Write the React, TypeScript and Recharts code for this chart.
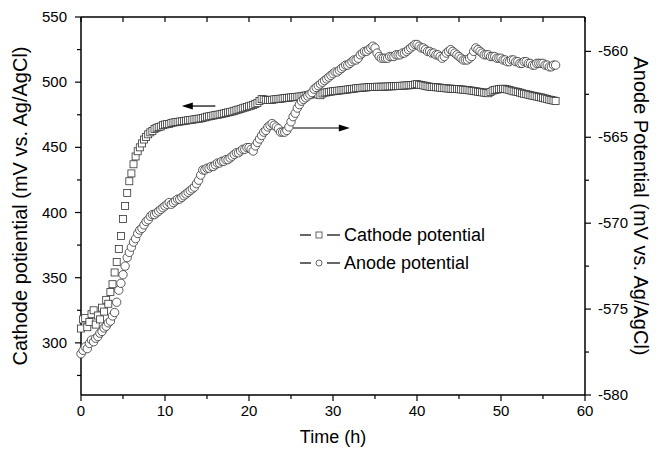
import React from 'react';
import {
  ComposedChart,
  Line,
  XAxis,
  YAxis,
  ReferenceLine,
} from 'recharts';

/* ------------------------- data ----------------------------------------- */
// sampling times (h)
const times = [
  0, 0.25, 0.5, 0.75, 1, 1.25, 1.5, 1.75,
  2, 2.25, 2.5, 2.75, 3, 3.25, 3.5, 3.75,
  4, 4.25, 4.5, 4.75, 5, 5.25, 5.5, 5.75,
  6, 6.25, 6.5, 6.75, 7, 7.25, 7.5, 7.75,
  8, 8.25, 8.5, 8.75, 9, 9.25, 9.5, 9.75,
  10, 10.25, 10.5, 10.75, 11, 11.25, 11.5, 11.75,
  12, 12.25, 12.5, 12.75, 13, 13.25, 13.5, 13.75,
  14, 14.25, 14.5, 14.75, 15, 15.25, 15.5, 15.75,
  16, 16.25, 16.5, 16.75, 17, 17.25, 17.5, 17.75,
  18, 18.25, 18.5, 18.75, 19, 19.25, 19.5, 19.75,
  20, 20.25, 20.5, 20.75, 21, 21.25, 21.5, 21.75,
  22, 22.25, 22.5, 22.75, 23, 23.25, 23.5, 23.75,
  24, 24.25, 24.5, 24.75, 25, 25.25, 25.5, 25.75,
  26, 26.25, 26.5, 26.75, 27, 27.25, 27.5, 27.75,
  28, 28.25, 28.5, 28.75, 29, 29.25, 29.5, 29.75,
  30, 30.25, 30.5, 30.75, 31, 31.25, 31.5, 31.75,
  32, 32.25, 32.5, 32.75, 33, 33.25, 33.5, 33.75,
  34, 34.25, 34.5, 34.75, 35, 35.25, 35.5, 35.75,
  36, 36.25, 36.5, 36.75, 37, 37.25, 37.5, 37.75,
  38, 38.25, 38.5, 38.75, 39, 39.25, 39.5, 39.75,
  40, 40.25, 40.5, 40.75, 41, 41.25, 41.5, 41.75,
  42, 42.25, 42.5, 42.75, 43, 43.25, 43.5, 43.75,
  44, 44.25, 44.5, 44.75, 45, 45.25, 45.5, 45.75,
  46, 46.25, 46.5, 46.75, 47, 47.25, 47.5, 47.75,
  48, 48.25, 48.5, 48.75, 49, 49.25, 49.5, 49.75,
  50, 50.25, 50.5, 50.75, 51, 51.25, 51.5, 51.75,
  52, 52.25, 52.5, 52.75, 53, 53.25, 53.5, 53.75,
  54, 54.25, 54.5, 54.75, 55, 55.25, 55.5, 55.75,
  56, 56.25, 56.5,
];

// cathode potential, mV vs Ag/AgCl (left axis)
const cathode = [
  311, 318, 319, 312, 316, 322, 325, 314,
  321, 318, 327, 324, 333, 330, 339, 345,
  354, 362, 372, 382, 395, 405, 415, 424,
  430, 437, 443, 447, 450, 453, 456, 458,
  460, 461.5, 462.5, 464, 465, 465.5, 466, 467,
  467.5, 467.8, 468, 468.6, 469, 469.3, 469.5, 469.8,
  470, 470.3, 470.5, 470.8, 471, 471.2, 471.5, 471.8,
  472, 472.2, 472.5, 473, 473.5, 473.8, 474, 474.4,
  474.8, 475, 475.3, 475.7, 476, 476.4, 476.8, 477.1,
  477.5, 478, 478.5, 479, 479.5, 480, 480.5, 481,
  481.5, 482, 482.5, 483.2, 484, 485.5, 487, 486.8,
  486.5, 486.4, 486.3, 486.5, 486.8, 487, 487.2, 487.3,
  487.5, 487.8, 488, 488.1, 488.3, 488.5, 488.6, 488.8,
  489, 489.2, 489.5, 489.8, 490, 490.4, 490.8, 491.2,
  491.5, 490.5, 490, 491.3, 492, 492.2, 492.5, 492.8,
  493, 493.2, 493.4, 493.6, 493.8, 494, 494.2, 494.4,
  494.6, 494.8, 495, 495.3, 495.5, 495.6, 495.8, 495.9,
  496, 496.2, 496.3, 496.3, 496.4, 496.5, 496.5, 496.5,
  496.5, 496.6, 496.7, 496.8, 496.8, 496.9, 497, 497.1,
  497.2, 497.3, 497.4, 497.5, 497.6, 497.7, 497.8, 498.2,
  498.5, 498.1, 497.8, 497.5, 497.2, 496.8, 496.5, 496.4,
  496.3, 496.1, 496, 495.8, 495.6, 495.4, 495.3, 495.1,
  495, 494.9, 494.8, 494.7, 494.6, 494.4, 494.3, 494.1,
  494, 493.7, 493.5, 493.2, 493, 492.7, 492.5, 492.2,
  492, 491.7, 491.5, 492.5, 493.5, 494, 494.3, 494.6,
  494.8, 495, 494.8, 494.4, 494, 493.5, 493, 492.8,
  492.5, 492, 491.5, 491.1, 490.8, 490.4, 490, 489.6,
  489.3, 489, 488.7, 488.3, 488, 487.5, 487, 486.6,
  486.3, 485.9, 485.5,
];

// anode potential, mV vs Ag/AgCl (right axis)
const anode = [
  -577.6, -577.4, -577.2, -577.3, -577.0, -576.8, -576.9, -576.7,
  -576.6, -576.4, -576.3, -576.1, -576.0, -575.8, -575.7, -575.4,
  -575.2, -574.6, -573.9, -573.5, -573.0, -572.5, -572.0, -571.7,
  -571.4, -571.1, -570.9, -570.6, -570.4, -570.3, -570.1, -569.9,
  -569.8, -569.6, -569.5, -569.5, -569.4, -569.3, -569.2, -569.1,
  -569.0, -568.9, -568.8, -568.9, -568.8, -568.7, -568.6, -568.6,
  -568.5, -568.4, -568.3, -568.2, -568.1, -568.0, -567.9, -567.7,
  -567.5, -567.2, -566.9, -566.9, -566.8, -566.8, -566.7, -566.7,
  -566.6, -566.5, -566.5, -566.4, -566.4, -566.3, -566.3, -566.2,
  -566.1, -566.0, -565.9, -565.9, -565.8, -565.7, -565.7, -565.6,
  -565.6, -565.7, -565.8, -565.5, -565.3, -565.1, -564.9, -564.7,
  -564.6, -564.4, -564.3, -564.2, -564.3, -564.4, -564.5, -564.7,
  -564.7, -564.7, -564.6, -564.4, -564.1, -563.8, -563.6, -563.3,
  -563.1, -562.9, -562.8, -562.7, -562.6, -562.5, -562.4, -562.2,
  -562.1, -562.0, -561.9, -561.8, -561.7, -561.6, -561.5, -561.4,
  -561.3, -561.2, -561.2, -561.1, -561.0, -560.9, -560.8, -560.8,
  -560.7, -560.6, -560.5, -560.5, -560.4, -560.2, -560.1, -560.0,
  -560.0, -559.9, -559.8, -559.7, -559.8, -560.1, -560.3, -560.4,
  -560.4, -560.4, -560.4, -560.3, -560.3, -560.3, -560.2, -560.2,
  -560.2, -560.1, -560.1, -560.0, -559.9, -559.8, -559.7, -559.6,
  -559.6, -559.7, -559.8, -559.8, -559.9, -560.0, -560.0, -560.1,
  -560.1, -560.2, -560.2, -560.3, -560.4, -560.3, -560.1, -560.0,
  -559.9, -560.0, -560.1, -560.2, -560.3, -560.4, -560.5, -560.5,
  -560.5, -560.4, -560.3, -560.0, -559.8, -559.9, -560.0, -560.1,
  -560.2, -560.2, -560.2, -560.3, -560.3, -560.3, -560.4, -560.4,
  -560.4, -560.5, -560.5, -560.6, -560.6, -560.5, -560.5, -560.6,
  -560.6, -560.7, -560.7, -560.6, -560.6, -560.7, -560.7, -560.8,
  -560.8, -560.7, -560.7, -560.7, -560.7, -560.8, -560.8, -560.9,
  -560.9, -560.8, -560.8,
];

// axis ticks
const xTicks = [0, 5, 10, 15, 20, 25, 30, 35, 40, 45, 50, 55, 60];
const leftTicks = [275, 300, 325, 350, 375, 400, 425, 450, 475, 500, 525, 550];
const rightTicks = [-580, -577.5, -575, -572.5, -570, -567.5, -565, -562.5, -560];

/* ------------------------- helpers -------------------------------------- */
const FONT = '"Liberation Sans", Arial, sans-serif';
const INK = '#000';

const rows = times.map((t, i) => ({ t, cathode: cathode[i], anode: anode[i] }));

const squareDot = (p: any) => (
  <rect
    key={`sq-${p.index}`}
    x={p.cx - 3.5}
    y={p.cy - 3.5}
    width={7}
    height={7}
    fill="#fff"
    stroke="#333"
    strokeWidth={0.8}
  />
);

const circleDot = (p: any) => (
  <circle
    key={`ci-${p.index}`}
    cx={p.cx}
    cy={p.cy}
    r={4.2}
    fill="#fff"
    stroke="#333"
    strokeWidth={0.8}
  />
);

const bottomTick = ({ x, y, payload }: any) => {
  const major = payload.value % 10 === 0;
  return (
    <g>
      <line x1={x} x2={x} y1={y} y2={y + (major ? 6 : 4)} stroke={INK} strokeWidth={1.2} />
      {major && (
        <text x={x} y={y + 21} textAnchor="middle" fontSize={15} fill={INK}>
          {payload.value}
        </text>
      )}
    </g>
  );
};

const topTick = ({ x, y }: any) => (
  <line x1={x} x2={x} y1={y} y2={y + 5} stroke={INK} strokeWidth={1.2} />
);

const leftTick = ({ x, y, payload }: any) => {
  const major = payload.value % 50 === 0;
  return (
    <g>
      <line x1={x - (major ? 6 : 4)} x2={x} y1={y} y2={y} stroke={INK} strokeWidth={1.2} />
      {major && (
        <text x={x - 14} y={y + 5} textAnchor="end" fontSize={15} fill={INK}>
          {payload.value}
        </text>
      )}
    </g>
  );
};

const rightTick = ({ x, y, payload }: any) => {
  const major = payload.value % 5 === 0;
  return (
    <g>
      <line x1={x} x2={x + (major ? 6 : 4)} y1={y} y2={y} stroke={INK} strokeWidth={1.2} />
      {major && (
        <text x={x + 13} y={y + 5} textAnchor="start" fontSize={15} fill={INK}>
          {payload.value}
        </text>
      )}
    </g>
  );
};

const arrow = (p: any) => {
  const { x1, y1, x2, y2 } = p;
  const dir = Math.sign(x2 - x1) || 1;
  return (
    <g>
      <line x1={x1} y1={y1} x2={x2 - dir * 8} y2={y2} stroke={INK} strokeWidth={1.2} />
      <polygon
        points={`${x2},${y2} ${x2 - dir * 11},${y2 - 3.5} ${x2 - dir * 11},${y2 + 3.5}`}
        fill={INK}
      />
    </g>
  );
};

const leftTitle = (p: any) => {
  const vb = p.viewBox;
  const cy = vb.y + vb.height / 2;
  return (
    <text
      x={20}
      y={cy}
      transform={`rotate(-90, 20, ${cy})`}
      textAnchor="middle"
      dominantBaseline="central"
      fontSize={20}
      fill={INK}
    >
      Cathode potiential (mV vs. Ag/AgCl)
    </text>
  );
};

const rightTitle = (p: any) => {
  const vb = p.viewBox;
  const cy = vb.y + vb.height / 2;
  return (
    <text
      x={641}
      y={cy}
      transform={`rotate(90, 641, ${cy})`}
      textAnchor="middle"
      dominantBaseline="central"
      fontSize={20}
      fill={INK}
    >
      Anode Potential (mV vs. Ag/AgCl)
    </text>
  );
};

const bottomTitle = (p: any) => {
  const vb = p.viewBox;
  return (
    <text
      x={vb.x + vb.width / 2}
      y={443}
      textAnchor="middle"
      fontSize={18}
      fill={INK}
    >
      Time (h)
    </text>
  );
};

/* legend (html overlay) */
const LegendRow = ({ label, shape, top }: { label: string; shape: 'sq' | 'ci'; top: number }) => (
  <div style={{ position: 'absolute', left: 298, top, display: 'flex', alignItems: 'center', height: 20 }}>
    <svg width={46} height={20}>
      <line x1={2} x2={13} y1={10} y2={10} stroke={INK} strokeWidth={1.2} />
      {shape === 'sq' ? (
        <rect x={18} y={7} width={6} height={6} fill="#fff" stroke="#555" strokeWidth={0.9} />
      ) : (
        <circle cx={21} cy={10} r={3} fill="#fff" stroke="#555" strokeWidth={0.9} />
      )}
      <line x1={29} x2={42} y1={10} y2={10} stroke={INK} strokeWidth={1.2} />
    </svg>
    <span style={{ fontSize: 18, color: INK, fontFamily: FONT, whiteSpace: 'nowrap' }}>{label}</span>
  </div>
);

/* ------------------------- component ------------------------------------ */
export default function App() {
  React.useEffect(() => {
    document.body.style.margin = '0';
  }, []);

  return (
    <div style={{ position: 'relative', width: 656, height: 452, background: '#fff', fontFamily: FONT }}>
      <ComposedChart
        width={656}
        height={452}
        data={rows}
        margin={{ top: 16, right: 0, bottom: 0, left: 0 }}
        style={{ fontFamily: FONT }}
      >
        <XAxis
          dataKey="t"
          type="number"
          domain={[0, 60]}
          ticks={xTicks}
          interval={0}
          height={57}
          tickSize={0}
          tickMargin={0}
          tick={bottomTick}
          axisLine={{ stroke: INK, strokeWidth: 1.5 }}
          label={bottomTitle}
        />
        <XAxis
          xAxisId="top"
          orientation="top"
          dataKey="t"
          type="number"
          domain={[0, 60]}
          ticks={xTicks}
          interval={0}
          height={1}
          tickSize={0}
          tickMargin={0}
          tick={topTick}
          axisLine={{ stroke: INK, strokeWidth: 1.5 }}
        />
        <YAxis
          yAxisId="left"
          type="number"
          domain={[260, 550]}
          ticks={leftTicks}
          interval={0}
          width={81}
          tickSize={0}
          tickMargin={0}
          tick={leftTick}
          axisLine={{ stroke: INK, strokeWidth: 1.5 }}
          label={leftTitle}
        />
        <YAxis
          yAxisId="right"
          orientation="right"
          type="number"
          domain={[-580, -558]}
          ticks={rightTicks}
          interval={0}
          width={71}
          tickSize={0}
          tickMargin={0}
          tick={rightTick}
          axisLine={{ stroke: INK, strokeWidth: 1.5 }}
          label={rightTitle}
        />

        <Line
          yAxisId="left"
          dataKey="cathode"
          stroke="none"
          dot={squareDot}
          activeDot={false}
          isAnimationActive={false}
        />
        <Line
          yAxisId="right"
          dataKey="anode"
          stroke="none"
          dot={circleDot}
          activeDot={false}
          isAnimationActive={false}
        />

        <ReferenceLine
          yAxisId="left"
          segment={[{ x: 16, y: 481.7 }, { x: 12, y: 481.7 }]}
          shape={arrow}
        />
        <ReferenceLine
          yAxisId="right"
          segment={[{ x: 25.2, y: -564.46 }, { x: 32, y: -564.46 }]}
          shape={arrow}
        />
      </ComposedChart>

      <LegendRow label="Cathode potential" shape="sq" top={225} />
      <LegendRow label="Anode potential" shape="ci" top={253} />
    </div>
  );
}
